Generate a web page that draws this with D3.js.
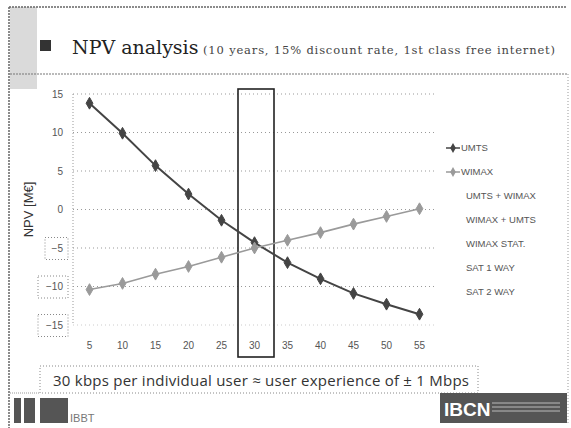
<!DOCTYPE html>
<html>
<head>
<meta charset="utf-8">
<script src="https://cdn.jsdelivr.net/npm/d3@7"></script>
<style>
  body { margin: 0; background: #fff; }
  svg { display: block; }
</style>
</head>
<body>
<div id="chart"></div>
<script>
// NPV per technology (M€)
const categories = [5, 10, 15, 20, 25, 30, 35, 40, 45, 50, 55];
const umts = [13.8, 9.9, 5.7, 2.0, -1.4, -4.3, -6.9, -9.0, -10.9, -12.3, -13.6];
const wimax = [-10.4, -9.6, -8.4, -7.4, -6.2, -5.0, -4.0, -3.0, -1.9, -0.9, 0.1];
const legendLabels = ["UMTS", "WIMAX", "UMTS + WIMAX", "WIMAX + UMTS", "WIMAX STAT.", "SAT 1 WAY", "SAT 2 WAY"];
const yTicks = [15, 10, 5, 0, -5, -10, -15];
const boxedTicks = [-5, -10, -15];
const highlightCategory = 30;

const W = 571, H = 428;
const svg = d3.select("#chart").append("svg").attr("width", W).attr("height", H);
svg.append("rect").attr("width", W).attr("height", H).attr("fill", "#fff");

// slide frame
svg.append("rect").attr("x", 10).attr("y", 7).attr("width", 27).attr("height", 82).attr("fill", "#dadada");
svg.append("line").attr("x1", 9).attr("x2", 567).attr("y1", 7).attr("y2", 7)
  .attr("stroke", "#666").attr("stroke-width", 1.5).attr("stroke-dasharray", "2,1");
svg.append("line").attr("x1", 9).attr("x2", 9).attr("y1", 7).attr("y2", H)
  .attr("stroke", "#666").attr("stroke-width", 1.5).attr("stroke-dasharray", "2,1");
svg.append("line").attr("x1", 10).attr("x2", 567).attr("y1", 74).attr("y2", 74)
  .attr("stroke", "#777").attr("stroke-width", 1.2).attr("stroke-dasharray", "2,1");
svg.append("line").attr("x1", 568).attr("x2", 568).attr("y1", 74).attr("y2", 425)
  .attr("stroke", "#999").attr("stroke-dasharray", "1,2");

// title
svg.append("rect").attr("x", 40).attr("y", 40).attr("width", 11).attr("height", 11).attr("fill", "#333");
svg.append("text").attr("x", 72).attr("y", 54)
  .attr("font-family", "DejaVu Serif").attr("font-size", 19).attr("fill", "#222")
  .text("NPV analysis");
svg.append("text").attr("x", 203).attr("y", 54)
  .attr("font-family", "DejaVu Serif").attr("font-size", 11.5).attr("fill", "#444")
  .attr("textLength", 352).attr("lengthAdjust", "spacing")
  .text("(10 years, 15% discount rate, 1st class free internet)");

// scales
const x = d3.scaleBand().domain(categories).range([73, 436]);
const y = d3.scaleLinear().domain([-15, 15]).range([325, 94]);
const cx = d => x(d) + x.bandwidth() / 2;

// grid
svg.append("g").selectAll("line").data(yTicks).join("line")
  .attr("x1", 73).attr("x2", 436)
  .attr("y1", d => y(d)).attr("y2", d => y(d))
  .attr("stroke", d => d === -15 ? "#ccc" : "#999").attr("stroke-dasharray", "1,3");
svg.append("line").attr("x1", 73).attr("x2", 73).attr("y1", y(15)).attr("y2", y(-15))
  .attr("stroke", "#999").attr("stroke-dasharray", "1,2");

// axes (text only)
const yAxis = svg.append("g").attr("transform", "translate(63,0)")
  .call(d3.axisLeft(y).tickValues(yTicks).tickSize(0).tickPadding(0));
yAxis.select(".domain").remove();
yAxis.selectAll("text").attr("font-family", "Liberation Sans").attr("font-size", 10).attr("fill", "#555")
  .attr("text-anchor", "end");
yAxis.selectAll(".tick").filter(d => boxedTicks.includes(d)).append("rect")
  .attr("x", d => d === -5 ? -18 : -25).attr("y", -11)
  .attr("width", d => d === -5 ? 23 : 30).attr("height", 22)
  .attr("fill", "none").attr("stroke", "#888").attr("stroke-dasharray", "1,2");

const xAxis = svg.append("g").attr("transform", "translate(0,342)")
  .call(d3.axisBottom(x).tickSize(0).tickPadding(0));
xAxis.select(".domain").remove();
xAxis.selectAll("text").attr("font-family", "Liberation Sans").attr("font-size", 10).attr("fill", "#555");

svg.append("text").attr("transform", `translate(33,${y(0)}) rotate(-90)`)
  .attr("text-anchor", "middle").attr("font-family", "Liberation Sans").attr("font-size", 13)
  .attr("fill", "#333").text("NPV [M€]");

// highlight around the chosen bitrate
svg.append("rect")
  .attr("x", x(highlightCategory)).attr("y", y(15) - 5)
  .attr("width", x.bandwidth() + 3).attr("height", 357 - (y(15) - 5))
  .attr("fill", "none").attr("stroke", "#222").attr("stroke-width", 1.6);

// series
const series = [
  { name: "UMTS", values: umts, color: "#444", width: 2 },
  { name: "WIMAX", values: wimax, color: "#9a9a9a", width: 1.6 }
];
const line = d3.line().x((d, i) => cx(categories[i])).y(d => y(d));
const diamond = d3.symbol().type(d3.symbolDiamond).size(40);

series.forEach(s => {
  svg.append("path").attr("d", line(s.values)).attr("fill", "none")
    .attr("stroke", s.color).attr("stroke-width", s.width);
  svg.append("g").selectAll("path").data(s.values).join("path")
    .attr("d", diamond)
    .attr("transform", (d, i) => `translate(${cx(categories[i])},${y(d)})`)
    .attr("fill", s.color).attr("stroke", s.color);
});

// legend
const leg = svg.append("g").selectAll("g").data(legendLabels).join("g")
  .attr("transform", (d, i) => `translate(0,${148 + i * 24})`);
leg.filter((d, i) => i < series.length).each(function(d, i) {
  const g = d3.select(this);
  g.append("line").attr("x1", 446).attr("x2", 460).attr("stroke", series[i].color).attr("stroke-width", 1.5);
  g.append("path").attr("d", d3.symbol().type(d3.symbolDiamond).size(28)).attr("transform", "translate(453,0)")
    .attr("fill", series[i].color);
});
leg.append("text").attr("x", (d, i) => i < series.length ? 461 : 466).attr("dy", "0.35em")
  .attr("font-family", "Liberation Sans").attr("font-size", 9.5).attr("fill", "#555").text(d => d);

// footnote box
svg.append("line").attr("x1", 10).attr("x2", 40).attr("y1", 393).attr("y2", 393)
  .attr("stroke", "#999").attr("stroke-dasharray", "1,1");
svg.append("rect").attr("x", 40).attr("y", 366).attr("width", 438).attr("height", 27)
  .attr("fill", "#fff").attr("stroke", "#888").attr("stroke-dasharray", "1,2");
svg.append("text").attr("x", 53).attr("y", 386).attr("font-family", "Open Sans").attr("font-size", 15)
  .attr("fill", "#333").attr("textLength", 416).attr("lengthAdjust", "spacing")
  .text("30 kbps per individual user ≈ user experience of ± 1 Mbps");

// logos
[[14, 7], [24, 11], [40, 28]].forEach(([lx, lw]) =>
  svg.append("rect").attr("x", lx).attr("y", 398).attr("width", lw).attr("height", 25).attr("fill", "#555"));
svg.append("text").attr("x", 70).attr("y", 422).attr("font-family", "Liberation Sans").attr("font-size", 11)
  .attr("fill", "#777").text("IBBT");
svg.append("rect").attr("x", 440).attr("y", 393).attr("width", 127).attr("height", 30).attr("fill", "#555");
svg.append("text").attr("x", 444).attr("y", 416).attr("font-family", "Liberation Sans").attr("font-weight", "bold")
  .attr("font-size", 19).attr("fill", "#fff").text("IBCN");
[403, 407, 411].forEach(ly =>
  svg.append("line").attr("x1", 492).attr("x2", 560).attr("y1", ly).attr("y2", ly).attr("stroke", "#bbb"));
</script>
</body>
</html>
